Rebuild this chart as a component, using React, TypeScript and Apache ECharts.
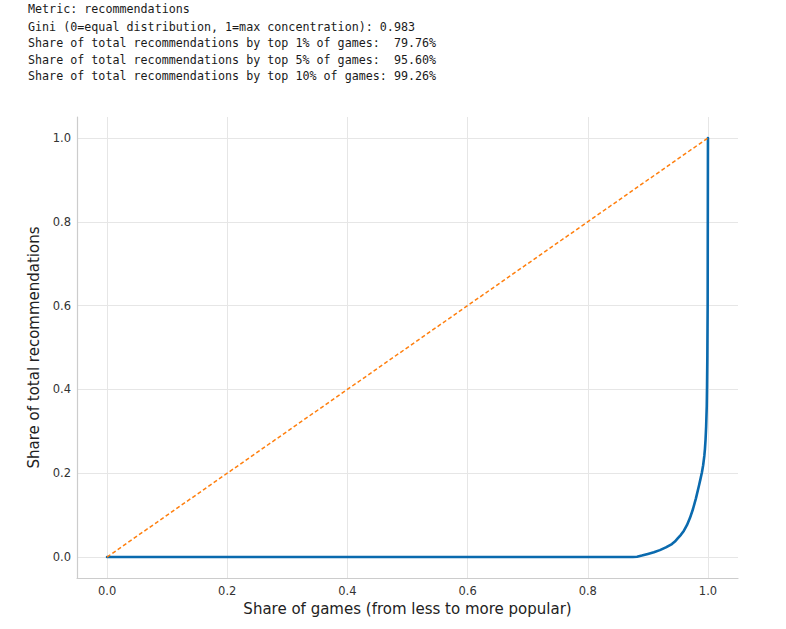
import React, { useEffect, useRef } from "react";
import * as echarts from "echarts";

const infoLines = [
  "Metric: recommendations",
  "Gini (0=equal distribution, 1=max concentration): 0.983",
  "Share of total recommendations by top 1% of games:  79.76%",
  "Share of total recommendations by top 5% of games:  95.60%",
  "Share of total recommendations by top 10% of games: 99.26%",
];
const infoLineY = [10, 28, 44, 61, 77];

const tickValues = [0, 0.2, 0.4, 0.6, 0.8, 1.0];

const lorenzX = [0, 0.5, 0.875, 0.882, 0.89, 0.9, 0.91, 0.92, 0.93, 0.94, 0.945, 0.95, 0.955, 0.96, 0.965, 0.97, 0.975, 0.98, 0.985, 0.9875, 0.99, 0.992, 0.994, 0.995, 0.996, 0.997, 0.998, 0.9985, 0.999, 0.9995, 1.0];
const lorenzY = [0, 0, 0, 0.0008, 0.0035, 0.0074, 0.0115, 0.0165, 0.023, 0.031, 0.037, 0.045, 0.053, 0.063, 0.076, 0.093, 0.114, 0.14, 0.17, 0.186, 0.2024, 0.219, 0.242, 0.258, 0.28, 0.312, 0.36, 0.41, 0.48, 0.6, 1.0];

const equalityX = [0, 1];
const equalityY = [0, 1];

export default function App() {
  const ref = useRef<HTMLDivElement>(null);
  useEffect(() => {
    if (!ref.current) return;
    const chart = echarts.init(ref.current, null, { renderer: "svg" });
    const tickFont = { fontFamily: "DejaVu Sans", fontSize: 11.5, color: "#333333" };
    chart.setOption({
      animation: false,
      backgroundColor: "#ffffff",
      grid: { left: 77, right: 48, top: 117, bottom: 51, containLabel: false },
      xAxis: {
        type: "value",
        min: -0.05,
        max: 1.05,
        name: "Share of games (from less to more popular)",
        nameLocation: "middle",
        nameGap: 22,
        nameTextStyle: { fontFamily: "DejaVu Sans", fontSize: 15, color: "#222222" },
        axisLine: { show: true, onZero: false, lineStyle: { color: "#cccccc", width: 1.2 } },
        axisTick: { show: false, customValues: tickValues },
        axisLabel: { ...tickFont, margin: 7, customValues: tickValues, formatter: (v: number) => v.toFixed(1) },
        splitLine: { show: true, lineStyle: { color: "#e6e6e6", width: 1 } },
      },
      yAxis: {
        type: "value",
        min: -0.05,
        max: 1.05,
        name: "Share of total recommendations",
        nameLocation: "middle",
        nameGap: 30,
        nameTextStyle: { fontFamily: "DejaVu Sans", fontSize: 15, color: "#222222" },
        axisLine: { show: true, onZero: false, lineStyle: { color: "#cccccc", width: 1.2 } },
        axisTick: { show: false, customValues: tickValues },
        axisLabel: { ...tickFont, margin: 6, customValues: tickValues, formatter: (v: number) => v.toFixed(1) },
        splitLine: { show: true, lineStyle: { color: "#e6e6e6", width: 1 } },
      },
      series: [
        {
          type: "line",
          name: "Lorenz curve",
          data: lorenzX.map((x, i) => [x, lorenzY[i]]),
          showSymbol: false,
          smooth: false,
          lineStyle: { color: "#0a6aae", width: 2.6, join: "round", cap: "round" },
          z: 2,
        },
        {
          type: "line",
          name: "Equality line",
          data: equalityX.map((x, i) => [x, equalityY[i]]),
          showSymbol: false,
          lineStyle: { color: "#ff7f0e", width: 1.5, type: [4, 2.5] },
          z: 3,
        },
      ],
      graphic: infoLines.map((t, i) => ({
        type: "text",
        left: 28,
        top: infoLineY[i] - 7,
        style: {
          text: t,
          fontFamily: "DejaVu Sans Mono",
          fontSize: 11.7,
          fill: "#1a1a1a",
        },
      })),
    });
    return () => chart.dispose();
  }, []);
  return <div ref={ref} style={{ position: "absolute", left: 0, top: 0, width: 786, height: 629 }} />;
}
